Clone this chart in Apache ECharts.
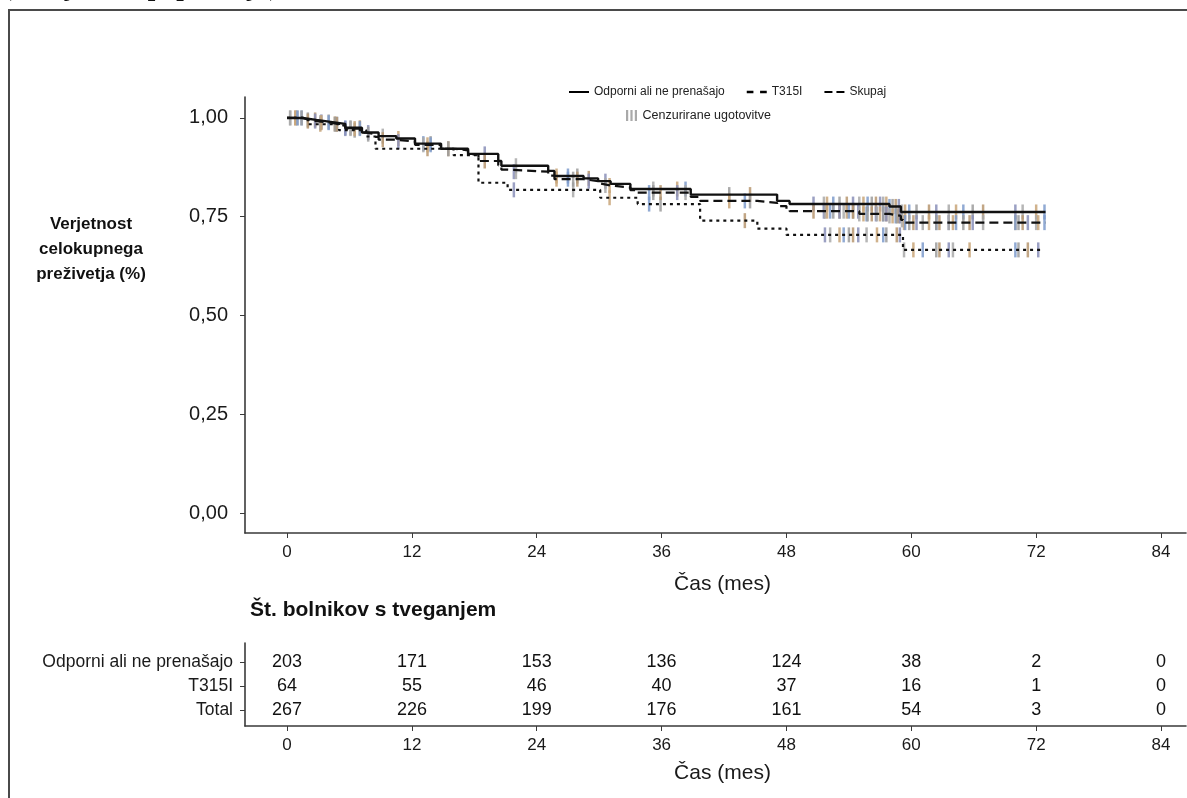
<!DOCTYPE html>
<html><head><meta charset="utf-8">
<script src="https://cdn.jsdelivr.net/npm/echarts@6/dist/echarts.min.js"></script>
<style>html,body{margin:0;padding:0;background:#fff}#c{width:1187px;height:798px}</style>
</head><body><div id="c"></div>
<script>
const FONT = '"Liberation Sans", Arial, Helvetica, sans-serif';

// ---- data ----
const xTicks = [0, 12, 24, 36, 48, 60, 72, 84];
const yTicks = [0, 0.25, 0.5, 0.75, 1];
const seriesNames = ['Odporni ali ne prenašajo', 'T315I', 'Skupaj'];
const censorName = 'Cenzurirane ugotovitve';
const riskRowNames = ['Odporni ali ne prenašajo', 'T315I', 'Total'];
const riskOdporni = [203, 171, 153, 136, 124, 38, 2, 0];
const riskT315I = [64, 55, 46, 40, 37, 16, 1, 0];
const riskTotal = [267, 226, 199, 176, 161, 54, 3, 0];

// Kaplan-Meier steps: [month, survival after step]
const kmOdporni = [[0,1.000],[1.5,0.995],[2.8,0.990],[4.2,0.985],[5.6,0.975],[7.2,0.963],[8.8,0.954],[10.5,0.948],[12.3,0.935],[14.8,0.922],[17.4,0.909],[20.3,0.891],[20.6,0.879],[25.1,0.866],[25.7,0.853],[28.5,0.847],[29.9,0.840],[31.1,0.833],[33.0,0.820],[38.8,0.806],[47.1,0.790],[48.3,0.782],[57.9,0.776],[59.0,0.762],[72.9,0.762]];
const kmT315I = [[0,1.000],[2.0,0.984],[5.0,0.969],[7.6,0.953],[8.5,0.922],[16.0,0.906],[18.4,0.836],[21.2,0.818],[30.1,0.798],[33.7,0.782],[39.7,0.740],[45.2,0.720],[48.0,0.704],[59.2,0.666],[72.6,0.666]];
const kmSkupaj = [[0,1.000],[1.5,0.996],[2.0,0.992],[2.8,0.988],[4.2,0.984],[5.0,0.980],[5.6,0.973],[7.2,0.963],[7.6,0.959],[8.5,0.952],[8.8,0.945],[10.5,0.940],[12.3,0.932],[14.8,0.922],[16.0,0.918],[17.4,0.908],[18.4,0.891],[20.3,0.880],[20.6,0.869],[21.2,0.864],[25.1,0.854],[25.7,0.845],[28.5,0.840],[29.9,0.834],[30.1,0.829],[31.1,0.824],[33.0,0.817],[33.7,0.811],[38.8,0.800],[39.7,0.790],[45.2,0.785],[47.1,0.777],[48.0,0.770],[48.3,0.764],[55.0,0.757],[57.9,0.752],[59.0,0.742],[59.2,0.735],[72.9,0.735]];

// censoring times (months)
const censorOdporni = [0.3,0.8,1.4,2.0,2.7,3.3,4.0,4.6,5.6,6.1,7.0,7.8,9.2,10.7,13.1,13.8,15.5,19.0,22.0,25.9,27.0,27.9,29.0,30.6,35.2,37.5,38.3,42.5,44.5,50.6,51.6,51.9,52.5,53.1,53.8,54.4,55.0,55.4,55.8,56.2,56.6,57.0,57.3,57.6,57.9,58.2,58.5,58.8,59.1,59.4,59.8,60.5,61.7,62.4,63.6,64.3,65.0,65.9,66.9,70.0,70.7,72.0,72.8];
const censorT315I = [1.0,3.2,4.8,6.5,13.5,21.8,27.5,31.0,34.8,35.9,44.0,51.7,52.2,53.1,53.5,54.0,54.4,54.9,55.7,56.7,57.3,57.6,58.6,58.9,59.3,60.2,61.1,62.4,62.7,63.6,64.0,65.6,70.0,70.3,71.2,72.2];

// ---- helpers ----
function survAt(km, t) {
  let s = km[0][1];
  for (const p of km) { if (p[0] <= t) s = p[1]; }
  return s;
}
const censorColors = ['#a9a9a9', '#c8a478', '#7e9bcb', '#9c9c9c', '#b79670', '#8a8fb8'];
function censorSeries(km, times) {
  return {
    type: 'scatter', name: censorName, xAxisIndex: 0, yAxisIndex: 0,
    symbol: 'rect', symbolSize: [2.5, 15], silent: true, z: 1,
    itemStyle: { color: '#a0a0a0', opacity: 0.85 },
    data: times.map((t, i) => ({ value: [t, survAt(km, t)], itemStyle: { color: censorColors[i % censorColors.length] } }))
  };
}
const fmtComma = v => v.toFixed(2).replace('.', ',');
const rowPos = [2.65, 1.65, 0.65];
function riskSeries(vals, row) {
  return {
    type: 'scatter', xAxisIndex: 1, yAxisIndex: 1, symbolSize: 0.01, silent: true,
    itemStyle: { color: '#111', opacity: 1 },
    label: { show: true, position: 'inside', formatter: p => String(p.value[2]), color: '#111', fontSize: 18, fontFamily: FONT, textBorderWidth: 0 },
    data: vals.map((v, i) => [xTicks[i], rowPos[row], v])
  };
}

const axisCol = '#3a3a3a';
const xCommon = {
  type: 'value', min: -4.04, max: 86.4,
  name: 'Čas (mes)', nameLocation: 'middle',
  nameTextStyle: { fontSize: 21, color: '#1a1a1a', fontFamily: FONT, padding: [0, 0, 0, 14] },
  axisLine: { show: true, onZero: false, lineStyle: { color: axisCol, width: 1.6 } },
  axisTick: { show: true, length: 5, lineStyle: { color: axisCol }, customValues: xTicks },
  axisLabel: { fontSize: 17, color: '#1a1a1a', margin: 11, customValues: xTicks },
  splitLine: { show: false }
};
const chart = echarts.init(document.getElementById('c'), null, { renderer: 'canvas' });
chart.setOption({
  animation: false,
  backgroundColor: '#ffffff',
  textStyle: { fontFamily: FONT },
  grid: [
    { left: 245, right: 1, top: 97, height: 436 },
    { left: 245, right: 1, top: 643, height: 83 }
  ],
  xAxis: [
    Object.assign({}, xCommon, { gridIndex: 0, nameGap: 41 }),
    Object.assign({}, xCommon, { gridIndex: 1, nameGap: 37 })
  ],
  yAxis: [
    {
      gridIndex: 0, type: 'value', min: -0.0506, max: 1.053,
      axisLine: { show: true, onZero: false, lineStyle: { color: axisCol, width: 1.6 } },
      axisTick: { show: true, length: 5, lineStyle: { color: axisCol }, customValues: yTicks },
      axisLabel: { fontSize: 20, color: '#1a1a1a', margin: 17, formatter: fmtComma, customValues: yTicks },
      splitLine: { show: false }
    },
    {
      gridIndex: 1, type: 'value', min: 0, max: 3.45,
      axisLine: { show: true, onZero: false, lineStyle: { color: axisCol, width: 1.6 } },
      axisTick: { show: true, length: 5, lineStyle: { color: axisCol }, customValues: rowPos },
      axisLabel: { fontSize: 17.5, color: '#1a1a1a', margin: 12, customValues: rowPos,
        formatter: v => riskRowNames[rowPos.findIndex(r => Math.abs(r - v) < 0.01)] },
      splitLine: { show: false }
    }
  ],
  legend: [
    {
      left: 564, top: 81, itemWidth: 20, itemHeight: 3, itemGap: 22, itemTextGap: 6,
      textStyle: { fontSize: 12, color: '#222', fontFamily: FONT },
      data: [
        { name: seriesNames[0], icon: 'path://M0,0h20v2h-20z', itemStyle: { color: '#000', opacity: 1 } },
        { name: seriesNames[1], icon: 'path://M0,0h5v2h-5zM10,0h5v2h-5z', itemStyle: { color: '#000', opacity: 1 } },
        { name: seriesNames[2], icon: 'path://M0,0h8v2h-8zM12,0h8v2h-8z', itemStyle: { color: '#000', opacity: 1 } }
      ]
    },
    {
      left: 621, top: 104, itemWidth: 12, itemHeight: 11, itemTextGap: 8,
      textStyle: { fontSize: 12.5, color: '#222', fontFamily: FONT },
      data: [{ name: censorName, icon: 'path://M0,0h2v10h-2z M4,0h2v10h-2z M8,0h2v10h-2z', itemStyle: { color: '#9a9a9a' } }]
    }
  ],
  series: [
    censorSeries(kmOdporni, censorOdporni),
    censorSeries(kmT315I, censorT315I),
    censorSeries(kmSkupaj, censorOdporni.concat(censorT315I).sort((a, b) => a - b)),
    { type: 'line', name: seriesNames[0], step: 'end', data: kmOdporni, symbol: 'none', z: 3,
      itemStyle: { color: '#111' }, lineStyle: { color: '#111', width: 2.4, type: 'solid' } },
    { type: 'line', name: seriesNames[1], step: 'end', data: kmT315I, symbol: 'none', z: 3,
      itemStyle: { color: '#111' }, lineStyle: { color: '#111', width: 2.2, type: [3, 4] } },
    { type: 'line', name: seriesNames[2], step: 'end', data: kmSkupaj, symbol: 'none', z: 3,
      itemStyle: { color: '#111' }, lineStyle: { color: '#111', width: 2.2, type: [9, 5] } },
    riskSeries(riskOdporni, 0),
    riskSeries(riskT315I, 1),
    riskSeries(riskTotal, 2)
  ],
  graphic: [
    { type: 'rect', silent: true, shape: { x: 9, y: 10, width: 1200, height: 820 },
      style: { fill: 'none', stroke: '#4a4a4a', lineWidth: 2 } },
    { type: 'text', silent: true, x: 3, y: 2,
      style: { text: '(ocenjevana populacija)', font: 'bold 27px "Liberation Serif", "Times New Roman", serif', fill: '#111', textVerticalAlign: 'bottom' } },
    { type: 'text', silent: true, x: 91, y: 249,
      style: { text: 'Verjetnost\ncelokupnega\npreživetja (%)', font: 'bold 17px ' + FONT, fill: '#111', textAlign: 'center', textVerticalAlign: 'middle', lineHeight: 25 } },
    { type: 'text', silent: true, x: 250, y: 610,
      style: { text: 'Št. bolnikov s tveganjem', font: 'bold 21px ' + FONT, fill: '#111', textVerticalAlign: 'middle' } }
  ]
});
</script></body></html>
